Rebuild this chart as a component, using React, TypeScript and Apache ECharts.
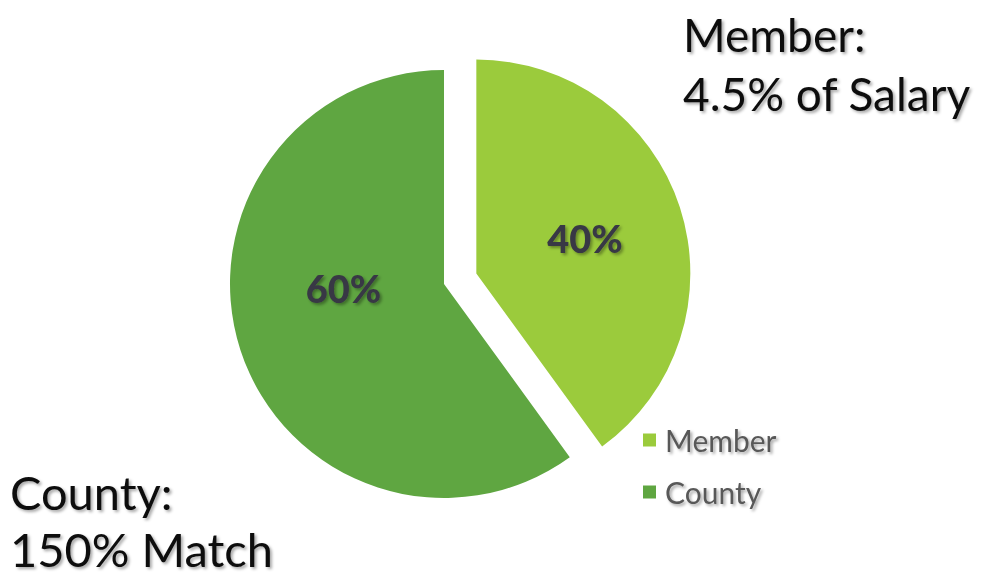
import React, { useEffect, useRef } from "react";
import * as echarts from "echarts";

const categories = ["Member", "County"];
const values = [40, 60];
const colors = ["#9BCB3C", "#5FA641"];
const memberNote = ["Member:", "4.5% of Salary"];
const countyNote = ["County:", "150% Match"];

export default function App() {
  const ref = useRef<HTMLDivElement>(null);
  useEffect(() => {
    document.body.style.margin = "0";
    const chart = echarts.init(ref.current!, null, { renderer: "svg" });
    const shadow = {
      textShadowColor: "rgba(0,0,0,0.35)",
      textShadowBlur: 3,
      textShadowOffsetX: 2,
      textShadowOffsetY: 2,
    };
    chart.setOption({
      animation: false,
      backgroundColor: "#ffffff",
      color: colors,
      legend: {
        orient: "vertical",
        left: 638,
        top: 420,
        icon: "rect",
        itemWidth: 13,
        itemHeight: 13,
        itemGap: 22,
        data: categories,
        textStyle: {
          fontFamily: "Lato",
          fontSize: 30,
          color: "#595959",
          padding: [0, 0, 0, 4],
          ...shadow,
        },
      },
      graphic: [
        {
          type: "text",
          left: 683,
          top: 5,
          style: {
            text: memberNote.join("\n"),
            fontFamily: "Lato",
            fontSize: 46,
            lineHeight: 59,
            fill: "#111",
            ...shadow,
          },
        },
        {
          type: "text",
          left: 10,
          top: 463,
          style: {
            text: countyNote.join("\n"),
            fontFamily: "Lato",
            fontSize: 47,
            lineHeight: 57,
            fill: "#111",
            ...shadow,
          },
        },
      ],
      series: [
        {
          type: "pie",
          center: [444, 284],
          radius: [0, 214],
          startAngle: 90,
          clockwise: true,
          selectedMode: "single",
          selectedOffset: 34,
          emphasis: { disabled: true },
          labelLine: { show: false },
          label: {
            show: true,
            position: "inner",
            formatter: "{d}%",
            fontFamily: "Lato",
            fontWeight: 900,
            fontSize: 38,
            color: "#383844",
            ...shadow,
          },
          labelLayout: (p: any) =>
            p.dataIndex === 1 ? { dx: 4, dy: -30 } : { dx: 4, dy: -2 },
          data: categories.map((c, i) => ({
            name: c,
            value: values[i],
            selected: i === 0,
          })),
        },
      ],
    });
    return () => chart.dispose();
  }, []);
  return (
    <div
      ref={ref}
      style={{ position: "fixed", left: 0, top: 0, width: 984, height: 575 }}
    />
  );
}
